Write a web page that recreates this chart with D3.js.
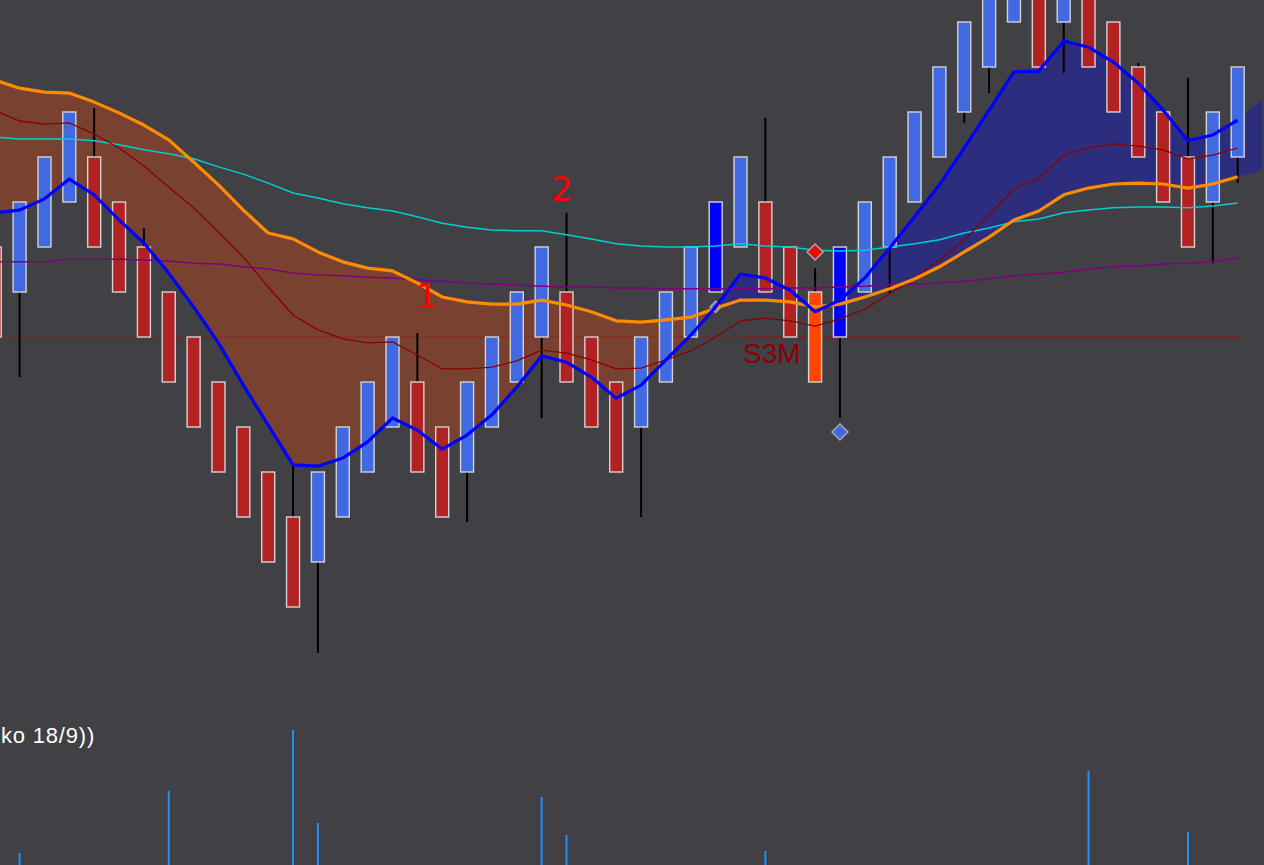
<!DOCTYPE html>
<html>
<head>
<meta charset="utf-8">
<script src="https://d3js.org/d3.v7.min.js"></script>
<style>
  body { margin: 0; background: #404045; overflow: hidden; }
</style>
</head>
<body>
<div id="chart"></div>
<script>
  // renko bricks, index -1 is the brick cut off at the left edge
  var bricks = d3.range(-1, 50);
  var opens = [102, 101, 102, 103, 104, 103, 102, 101, 100, 99, 98, 97, 96, 95, 96, 97, 98, 99, 98, 97,
               98, 99, 100, 101, 100, 99, 98, 99, 100, 101, 102, 103, 102, 101, 100, 101, 102, 103, 104, 105,
               106, 107, 108, 107, 108, 107, 106, 105, 104, 103, 104];
  var closes = [100, 103, 104, 105, 102, 101, 100, 99, 98, 97, 96, 95, 94, 97, 98, 99, 100, 97, 96, 99,
                100, 101, 102, 99, 98, 97, 100, 101, 102, 103, 104, 101, 100, 99, 102, 103, 104, 105, 106, 107,
                108, 109, 106, 109, 106, 105, 104, 103, 102, 105, 106];

  // wicks
  var highAt = [3, 5, 11, 16, 22, 30, 32, 45, 47];
  var highs = [105.09, 102.42, 97.16, 100.09, 102.76, 104.87, 101.53, 106.09, 105.76];
  var lowAt = [0, 12, 18, 21, 25, 33, 35, 38, 39, 42, 48, 49];
  var lows = [99.11, 92.98, 95.89, 98.2, 96.0, 98.2, 100.98, 104.76, 105.42, 105.87, 101.64, 103.42];

  // signal bricks
  var strongUp = [28, 33];
  var reversalBrick = [32];

  // averages, one value per brick (-1 .. 49)
  var fastAvg = [102.76, 102.82, 103.07, 103.51, 103.16, 102.60, 102.09, 101.42, 100.67, 99.87, 98.93,
                 98.04, 97.16, 97.13, 97.31, 97.67, 98.20, 97.93, 97.51, 97.82, 98.27, 98.89, 99.58, 99.44,
                 99.11, 98.64, 98.93, 99.49, 100.04, 100.67, 101.40, 101.31, 101.04, 100.56, 100.82, 101.31,
                 101.98, 102.67, 103.38, 104.20, 105.04, 105.89, 105.91, 106.58, 106.44, 106.11, 105.64,
                 105.04, 104.36, 104.49, 104.82];
  var slowAvg = [105.71, 105.53, 105.44, 105.42, 105.22, 104.98, 104.71, 104.38, 103.89, 103.38, 102.82,
                 102.31, 102.18, 101.89, 101.67, 101.53, 101.47, 101.20, 100.89, 100.78, 100.73, 100.73,
                 100.82, 100.71, 100.56, 100.36, 100.33, 100.38, 100.44, 100.64, 100.82, 100.82, 100.78,
                 100.67, 100.73, 100.89, 101.07, 101.29, 101.56, 101.89, 102.22, 102.60, 102.80, 103.16,
                 103.31, 103.40, 103.42, 103.40, 103.31, 103.40, 103.56];
  // one projected point of the cloud past the last brick
  var cloudLeadFast = [105.29];
  var cloudLeadSlow = [103.71];

  var redAvg = [105.04, 104.80, 104.73, 104.76, 104.51, 104.20, 103.80, 103.33, 102.87, 102.33, 101.78,
                101.11, 100.49, 100.16, 99.96, 99.87, 99.89, 99.60, 99.29, 99.29, 99.33, 99.47, 99.71, 99.64,
                99.49, 99.29, 99.31, 99.49, 99.69, 100.00, 100.36, 100.42, 100.36, 100.24, 100.40, 100.62,
                100.96, 101.31, 101.71, 102.16, 102.71, 103.29, 103.53, 104.04, 104.20, 104.29, 104.24,
                104.16, 103.96, 104.04, 104.20];
  var cyanAvg = [104.44, 104.40, 104.40, 104.40, 104.36, 104.27, 104.16, 104.07, 103.96, 103.78, 103.62,
                 103.42, 103.20, 103.09, 102.96, 102.87, 102.80, 102.67, 102.53, 102.44, 102.38,
                 102.36, 102.36, 102.27, 102.18, 102.07, 102.02, 102.00, 102.00, 102.02, 102.07,
                 102.02, 102.00, 101.93, 101.91, 101.93, 102.00, 102.07, 102.16, 102.31, 102.42,
                 102.56, 102.62, 102.76, 102.82, 102.87, 102.89, 102.89, 102.87, 102.91, 102.98];
  var purpleAvg = [101.67, 101.67, 101.67, 101.73, 101.73, 101.73, 101.71, 101.69, 101.64, 101.62, 101.56,
                   101.51, 101.42, 101.38, 101.36, 101.33, 101.31, 101.27, 101.24, 101.20, 101.18,
                   101.16, 101.13, 101.11, 101.11, 101.09, 101.09, 101.07, 101.07, 101.07, 101.07,
                   101.07, 101.09, 101.09, 101.11, 101.13, 101.16, 101.18, 101.20, 101.24, 101.29,
                   101.36, 101.40, 101.44, 101.51, 101.56, 101.58, 101.62, 101.64, 101.67, 101.76];

  // support level
  var levelPrice = 100;
  var levelDottedFrom = 29.1;
  var levelLabel = "S3M";
  var levelLabelPrice = 99.42;

  // wave labels
  var waveLabels = ["1", "2"];
  var waveAt = [16.39, 21.8];
  var wavePrice = [100.64, 103.02];

  // diamond markers
  var markAt = [28, 32, 33];
  var markPrice = [100.67, 101.89, 97.89];
  var markColor = ["#4169e1", "#ff0000", "#4169e1"];
  var markSize = [5.5, 8, 8];

  // volume spikes
  var volAt = [0, 6, 11, 12, 21, 22, 30, 43, 47];
  var volumes = [12, 74, 135, 42, 68, 30, 14, 94, 33];
  var volTitle = "ko 18/9))";

  var width = 1264;
  var height = 865;

  var x = d3.scaleLinear().domain([0, 49]).range([19.6, 1237.7]);
  var y = d3.scaleLinear().domain([100, 107]).range([337, 22]);
  var yVol = d3.scaleLinear().domain([0, 135]).range([865, 730]);

  var svg = d3.select("#chart")
    .append("svg")
    .attr("width", width)
    .attr("height", height)
    .style("display", "block");

  svg.append("rect")
    .attr("width", width)
    .attr("height", height)
    .attr("fill", "#404045");

  // cloud between the fast and slow averages
  var cloud = bricks.map(function(b, i) {
    return { i: b, fast: fastAvg[i], slow: slowAvg[i] };
  });
  cloudLeadFast.forEach(function(v, k) {
    cloud.push({ i: 50 + k, fast: v, slow: cloudLeadSlow[k] });
  });

  var aboveFast = d3.area().x(function(d) { return x(d.i); }).y0(0).y1(function(d) { return y(d.fast); });
  var belowFast = d3.area().x(function(d) { return x(d.i); }).y0(height).y1(function(d) { return y(d.fast); });
  var aboveSlow = d3.area().x(function(d) { return x(d.i); }).y0(0).y1(function(d) { return y(d.slow); });
  var belowSlow = d3.area().x(function(d) { return x(d.i); }).y0(height).y1(function(d) { return y(d.slow); });

  var defs = svg.append("defs");
  defs.append("clipPath").attr("id", "clipAboveFast")
    .append("path").attr("d", aboveFast(cloud));
  defs.append("clipPath").attr("id", "clipAboveSlow")
    .append("path").attr("d", aboveSlow(cloud));

  // slow above fast -> brown
  svg.append("path")
    .attr("d", belowSlow(cloud))
    .attr("clip-path", "url(#clipAboveFast)")
    .attr("fill", "#794230");
  // fast above slow -> navy
  svg.append("path")
    .attr("d", belowFast(cloud))
    .attr("clip-path", "url(#clipAboveSlow)")
    .attr("fill", "#2d2d7d");

  // support level line
  svg.append("line")
    .attr("x1", 0)
    .attr("x2", x(49))
    .attr("y1", y(levelPrice))
    .attr("y2", y(levelPrice))
    .style("stroke", "#8b1a1a")
    .style("stroke-opacity", 0.45)
    .style("stroke-width", 1.5);
  svg.append("line")
    .attr("x1", x(levelDottedFrom))
    .attr("x2", x(49))
    .attr("y1", y(levelPrice))
    .attr("y2", y(levelPrice))
    .style("stroke", "#9b0c0c")
    .style("stroke-width", 1.5)
    .style("stroke-dasharray", "2,2");

  // wicks
  svg.selectAll(".wickHigh")
    .data(highAt)
    .enter().append("line")
    .attr("x1", function(d) { return x(d); })
    .attr("x2", function(d) { return x(d); })
    .attr("y1", function(d, k) { return y(highs[k]); })
    .attr("y2", function(d) { var i = d + 1; return y(Math.max(opens[i], closes[i])); })
    .style("stroke", "#000")
    .style("stroke-width", 2);
  svg.selectAll(".wickLow")
    .data(lowAt)
    .enter().append("line")
    .attr("x1", function(d) { return x(d); })
    .attr("x2", function(d) { return x(d); })
    .attr("y1", function(d, k) { return y(lows[k]); })
    .attr("y2", function(d) { var i = d + 1; return y(Math.min(opens[i], closes[i])); })
    .style("stroke", "#000")
    .style("stroke-width", 2);

  // bricks
  function brickColor(b, i) {
    if (strongUp.indexOf(b) >= 0) return "#0000ff";
    if (reversalBrick.indexOf(b) >= 0) return "#ff4500";
    return closes[i] > opens[i] ? "#4169e1" : "#b22222";
  }
  svg.selectAll(".brick")
    .data(bricks)
    .enter().append("rect")
    .attr("x", function(d) { return x(d) - 6.5; })
    .attr("width", 13)
    .attr("y", function(d, i) { return y(Math.max(opens[i], closes[i])); })
    .attr("height", function(d, i) { return Math.abs(y(opens[i]) - y(closes[i])); })
    .attr("fill", brickColor)
    .style("stroke", "#d3d3d3")
    .style("stroke-width", 1.4);

  // thin averages
  function lineOf(values) {
    return d3.line()
      .x(function(d, i) { return x(bricks[i]); })
      .y(function(d) { return y(d); })(values);
  }
  svg.append("path").attr("d", lineOf(purpleAvg))
    .attr("fill", "none").style("stroke", "#800080").style("stroke-width", 1.5);
  svg.append("path").attr("d", lineOf(cyanAvg))
    .attr("fill", "none").style("stroke", "#00ced1").style("stroke-width", 1.5);
  svg.append("path").attr("d", lineOf(redAvg))
    .attr("fill", "none").style("stroke", "#8b0000").style("stroke-width", 1.3);

  function diamond(k) {
    var cx = x(markAt[k]), cy = y(markPrice[k]), s = markSize[k];
    return "M" + cx + "," + (cy - s) + "L" + (cx + s) + "," + cy +
           "L" + cx + "," + (cy + s) + "L" + (cx - s) + "," + cy + "Z";
  }
  // small marker sits under the averages
  svg.append("path")
    .attr("d", diamond(0))
    .attr("fill", markColor[0])
    .style("stroke", "#a9a9a9")
    .style("stroke-width", 1.5);

  // main averages
  svg.append("path").attr("d", lineOf(slowAvg))
    .attr("fill", "none").style("stroke", "#ff8c00").style("stroke-width", 3.2)
    .style("stroke-linejoin", "round");
  svg.append("path").attr("d", lineOf(fastAvg))
    .attr("fill", "none").style("stroke", "#0000ff").style("stroke-width", 3.2)
    .style("stroke-linejoin", "round");

  [1, 2].forEach(function(k) {
    svg.append("path")
      .attr("d", diamond(k))
      .attr("fill", markColor[k])
      .style("stroke", "#a9a9a9")
      .style("stroke-width", 1.5);
  });

  // labels
  svg.selectAll(".wave")
    .data(waveLabels)
    .enter().append("text")
    .attr("x", function(d, k) { return x(waveAt[k]); })
    .attr("y", function(d, k) { return y(wavePrice[k]); })
    .attr("text-anchor", "middle")
    .attr("fill", "#ff0000")
    .style("font-family", "DejaVu Sans, sans-serif")
    .style("font-size", "34px")
    .text(function(d) { return d; });

  svg.append("text")
    .attr("x", x(levelDottedFrom))
    .attr("y", y(levelLabelPrice))
    .attr("fill", "#8b0000")
    .style("font-family", "Liberation Sans, Arial, sans-serif")
    .style("font-size", "28px")
    .text(levelLabel);

  // volume
  svg.selectAll(".vol")
    .data(volAt)
    .enter().append("line")
    .attr("x1", function(d) { return x(d); })
    .attr("x2", function(d) { return x(d); })
    .attr("y1", yVol(0))
    .attr("y2", function(d, k) { return yVol(volumes[k]); })
    .style("stroke", "#1e90ff")
    .style("stroke-width", 2);

  svg.append("text")
    .attr("x", 1)
    .attr("y", 743)
    .attr("fill", "#ffffff")
    .style("font-family", "Liberation Sans, Arial, sans-serif")
    .style("font-size", "22px")
    .style("letter-spacing", "0.8px")
    .text(volTitle);
</script>
</body>
</html>
